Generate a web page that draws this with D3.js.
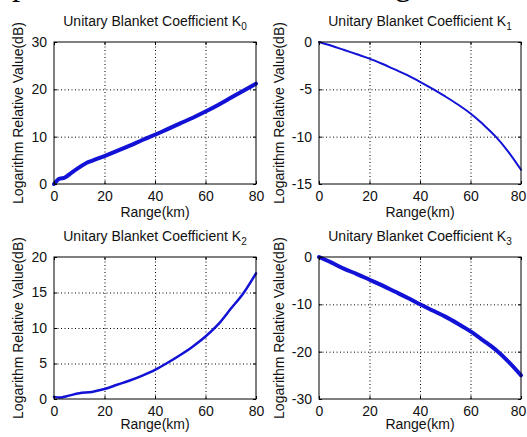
<!DOCTYPE html>
<html>
<head>
<meta charset="utf-8">
<script src="https://cdn.jsdelivr.net/npm/d3@7"></script>
<style>
body { margin: 0; background: #fff; }
svg text { font-family: Arial, "Liberation Sans", sans-serif; fill: #111; }
</style>
</head>
<body>
<script>
// values
var rangeK0 = [0, 1, 2, 3, 4, 5, 7, 10, 13, 15, 20, 25, 30, 35, 40, 45, 50, 55, 60, 65, 70, 75, 80];
var valueK0 = [0, 0.6, 1.1, 1.2, 1.3, 1.6, 2.4, 3.5, 4.5, 4.9, 5.9, 7.0, 8.1, 9.3, 10.4, 11.6, 12.8, 14.0, 15.3, 16.7, 18.2, 19.7, 21.2];

var rangeStep = [0, 5, 10, 15, 20, 25, 30, 35, 40, 45, 50, 55, 60, 65, 70, 75, 80];
var valueK1 = [0, -0.4, -0.85, -1.3, -1.75, -2.3, -2.9, -3.5, -4.2, -4.95, -5.75, -6.6, -7.55, -8.7, -10, -11.6, -13.5];
var valueK3 = [0, -1.2, -2.5, -3.6, -4.8, -6.0, -7.3, -8.6, -10.0, -11.3, -12.6, -14.1, -15.7, -17.6, -19.6, -22.1, -25.0];

var rangeK2 = [0, 2, 5, 10, 15, 20, 25, 30, 35, 40, 45, 50, 55, 60, 65, 70, 75, 80];
var valueK2 = [0.3, 0.2, 0.4, 0.8, 1.0, 1.4, 2.0, 2.6, 3.3, 4.1, 5.1, 6.2, 7.4, 8.8, 10.5, 12.7, 14.9, 17.7];

var xTicks = [0, 20, 40, 60, 80];
var yTicksK0 = [0, 10, 20, 30];
var yTicksK1 = [-15, -10, -5, 0];
var yTicksK2 = [0, 5, 10, 15, 20];
var yTicksK3 = [-30, -20, -10, 0];

var width = 527,
    height = 437;

var svg = d3.select("body").append("svg")
    .attr("width", width)
    .attr("height", height);

/* cut-off sentence of the page above the figure */
svg.append("text")
    .attr("x", 12)
    .attr("y", -5)
    .style("font-family", "'Liberation Serif', 'Times New Roman', serif")
    .style("font-size", "33px")
    .style("fill", "#000")
    .text("parameters was showed in Fig. 3.");

var panels = [
    { sub: "0", xs: rangeK0, ys: valueK0, yTicks: yTicksK0, left: 54, right: 256, top: 42, bottom: 184, labelX: 23, rangeY: 33, lw: 4, shiftLast: 0 },
    { sub: "1", xs: rangeStep, ys: valueK1, yTicks: yTicksK1, left: 319, right: 521, top: 42, bottom: 184, labelX: 284, rangeY: 33, lw: 2, shiftLast: -3 },
    { sub: "2", xs: rangeK2, ys: valueK2, yTicks: yTicksK2, left: 54, right: 256, top: 257, bottom: 399, labelX: 23, rangeY: 30, lw: 2.5, shiftLast: 0 },
    { sub: "3", xs: rangeStep, ys: valueK3, yTicks: yTicksK3, left: 319, right: 521, top: 257, bottom: 399, labelX: 284, rangeY: 30, lw: 4, shiftLast: -3 }
];

// MATLAB prints a plain hyphen for negatives
var plainFormat = function(d) { return String(d); };

var drawPanel = function(p) {
    var w = p.right - p.left,
        h = p.bottom - p.top;

    var x = d3.scaleLinear().domain([0, 80]).range([0, w]);
    var y = d3.scaleLinear().domain(d3.extent(p.yTicks)).range([h, 0]);

    var g = svg.append("g")
        .attr("transform", "translate(" + p.left + "," + p.top + ")");

    /* dotted grid */
    g.append("g")
        .attr("class", "grid")
        .attr("transform", "translate(0," + h + ")")
        .call(d3.axisBottom(x).tickValues(xTicks.slice(1, -1)).tickSize(-h).tickFormat(""));
    g.append("g")
        .attr("class", "grid")
        .call(d3.axisLeft(y).tickValues(p.yTicks.slice(1, -1)).tickSize(-w).tickFormat(""));
    g.selectAll(".grid .domain").remove();
    g.selectAll(".grid line")
        .attr("stroke", "#000")
        .attr("stroke-width", 1)
        .attr("stroke-dasharray", "1,2.5");

    /* data line */
    var line = d3.line()
        .curve(d3.curveMonotoneX)
        .x(function(d, i) { return x(p.xs[i]); })
        .y(function(d) { return y(d); });

    g.append("path")
        .datum(p.ys)
        .attr("fill", "none")
        .attr("stroke", "#1212d6")
        .attr("stroke-width", p.lw)
        .attr("stroke-linejoin", "round")
        .attr("stroke-linecap", "round")
        .attr("d", line);

    /* axes with inward ticks */
    var xAxis = g.append("g")
        .attr("transform", "translate(0," + h + ")")
        .call(d3.axisBottom(x).tickValues(xTicks).tickSize(-3).tickPadding(7).tickFormat(plainFormat));
    var yAxis = g.append("g")
        .call(d3.axisLeft(y).tickValues(p.yTicks).tickSize(-3).tickPadding(7).tickFormat(plainFormat));
    g.append("g")
        .call(d3.axisTop(x).tickValues(xTicks).tickSize(-3).tickFormat(""));
    g.append("g")
        .attr("transform", "translate(" + w + ",0)")
        .call(d3.axisRight(y).tickValues(p.yTicks).tickSize(-3).tickFormat(""));

    g.selectAll(".domain").remove();
    g.selectAll(".tick line").filter(function() { return !this.closest(".grid"); })
        .attr("stroke", "#000");
    xAxis.selectAll("text").style("font-size", "14px");
    xAxis.selectAll("text").filter(function(d) { return d === 80; })
        .attr("x", p.shiftLast);
    yAxis.selectAll("text").style("font-size", "14px");

    /* box */
    g.append("rect")
        .attr("width", w)
        .attr("height", h)
        .attr("fill", "none")
        .attr("stroke", "#000")
        .attr("stroke-width", 1);

    /* title */
    var title = g.append("text")
        .attr("x", w / 2)
        .attr("y", -16)
        .attr("text-anchor", "middle")
        .style("font-size", "14px");
    title.append("tspan").text("Unitary Blanket Coefficient K");
    title.append("tspan")
        .attr("dy", 4)
        .style("font-size", "10px")
        .text(p.sub);

    /* axis labels */
    g.append("text")
        .attr("x", w / 2)
        .attr("y", h + p.rangeY)
        .attr("text-anchor", "middle")
        .style("font-size", "14px")
        .text("Range(km)");

    svg.append("text")
        .attr("transform", "translate(" + p.labelX + "," + (p.top + h / 2) + ") rotate(-90)")
        .attr("text-anchor", "middle")
        .style("font-size", "14px")
        .text("Logarithm Relative Value(dB)");
};

panels.forEach(drawPanel);
</script>
</body>
</html>
